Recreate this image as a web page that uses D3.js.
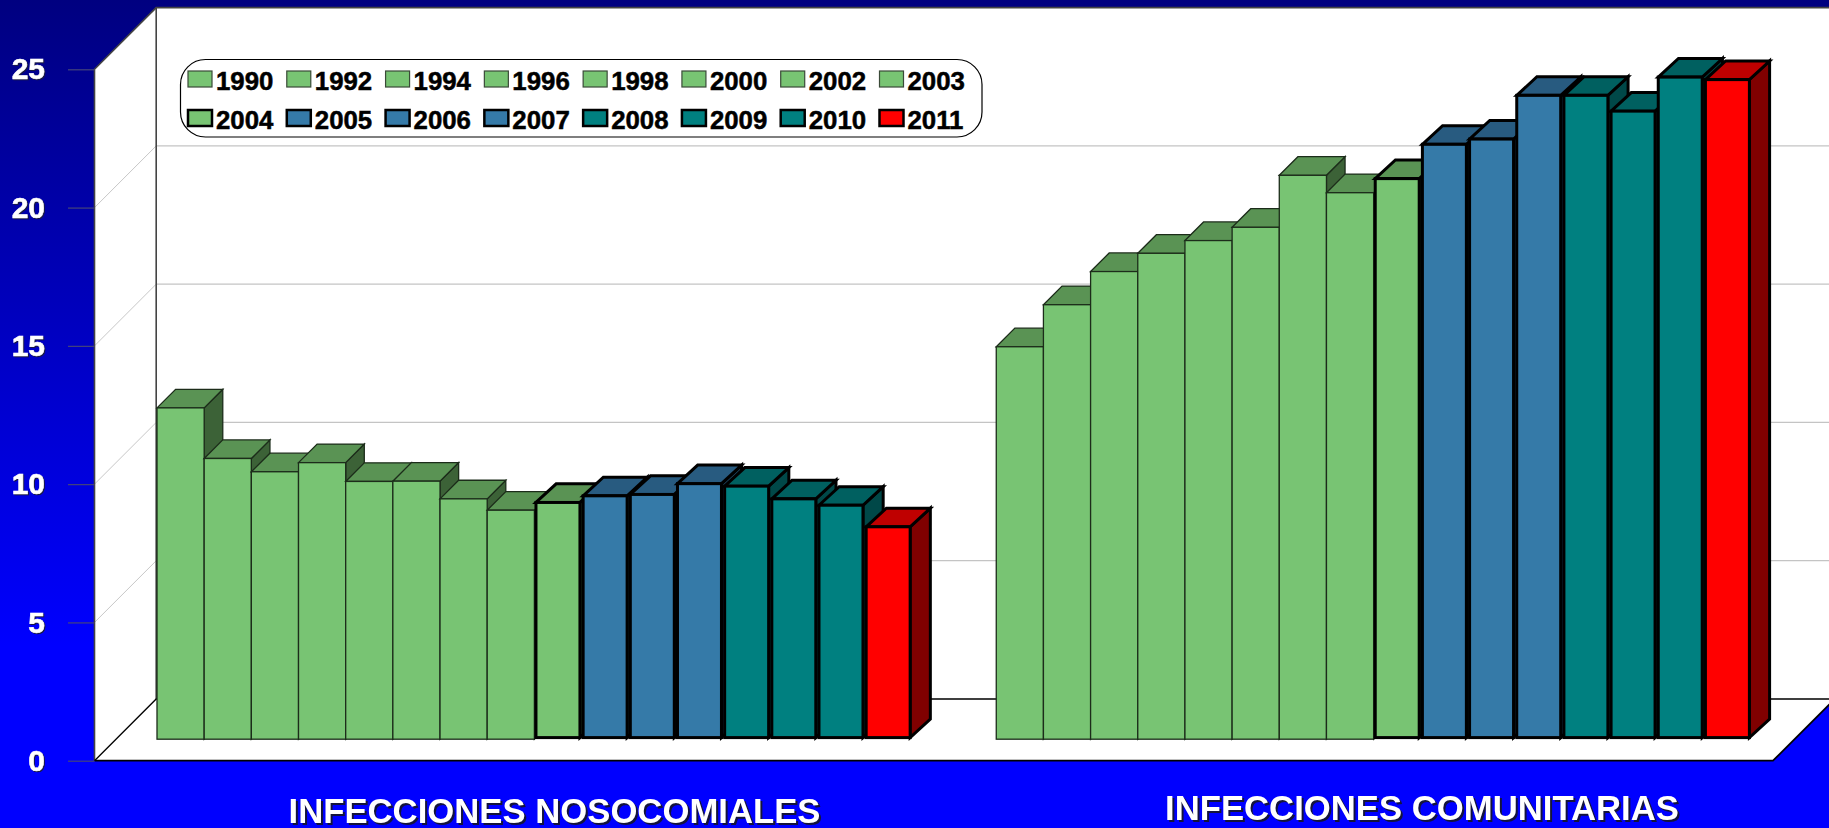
<!DOCTYPE html>
<html>
<head>
<meta charset="utf-8">
<script src="https://cdnjs.cloudflare.com/ajax/libs/d3/7.8.5/d3.min.js"></script>
<style>
html,body{margin:0;padding:0;background:#00f;overflow:hidden}
svg{display:block}
text{font-family:"Liberation Sans",Arial,sans-serif;font-weight:700}
</style>
</head>
<body>
<script>
const years = ["1990","1992","1994","1996","1998","2000","2002","2003","2004","2005","2006","2007","2008","2009","2010","2011"];
const nosocomiales = [11.98,10.15,9.67,10.0,9.32,9.33,8.69,8.28,8.56,8.80,8.85,9.24,9.15,8.69,8.46,7.68];
const comunitarias = [14.19,15.71,16.91,17.57,18.03,18.51,20.39,19.76,20.27,21.51,21.70,23.28,23.28,22.71,23.94,23.85];
const groups = ["INFECCIONES NOSOCOMIALES","INFECCIONES COMUNITARIAS"];
const groupValues = [nosocomiales, comunitarias];
const ticks = [0,5,10,15,20,25];
const gridTicks = [5,10,15,20];
const legendRows = [years.slice(0,8), years.slice(8)];

const W = 1829, H = 828;
const palette = {
  green:{front:"#78c473",top:"#5a9354",side:"#3c6237"},
  blue:{front:"#357aa8",top:"#285b80",side:"#1e4560"},
  teal:{front:"#008080",top:"#006060",side:"#004848"},
  red:{front:"#ff0000",top:"#bf0000",side:"#800000"}
};
const colorOf = y => y==="2011" ? palette.red : y>="2008" ? palette.teal : y>="2005" ? palette.blue : palette.green;
const heavy = y => y>="2004";

const svg = d3.select("body").append("svg").attr("width",W).attr("height",H);
const defs = svg.append("defs");
const grad = defs.append("linearGradient").attr("id","bg").attr("x1",0).attr("x2",0).attr("y1",0).attr("y2",1);
grad.append("stop").attr("offset","0").attr("stop-color","#000080");
grad.append("stop").attr("offset","0.78").attr("stop-color","#0000ff");
grad.append("stop").attr("offset","1").attr("stop-color","#0000ff");
svg.append("rect").attr("width",W).attr("height",H).attr("fill","url(#bg)");

const y = d3.scaleLinear().domain([0,25]).range([760.7,69.3]);
const wallX = 94.5, depth = 61.7, barInset = 21.5, barDepth = 18.6;
const right = 1773;
const backY = v => y(v)-depth;
const x0 = d3.scaleBand().domain(groups).range([157,1751]).paddingInner(0.1007);
const x1 = d3.scaleBand().domain(years).range([0,x0.bandwidth()]);
const line = d3.line();

// walls and floor
svg.append("path").attr("fill","#fff")
  .attr("d",line([[wallX,y(25)],[wallX+depth,backY(25)],[W,backY(25)],[W,backY(0)],[right+depth,backY(0)],[right,y(0)],[wallX,y(0)]])+"Z");

// gridlines
const grid = svg.append("g");
grid.selectAll("line.back").data(gridTicks).join("line").attr("class","back")
  .attr("x1",wallX+depth).attr("x2",W).attr("y1",backY).attr("y2",backY)
  .attr("stroke","#c4c4c4").attr("stroke-width",1.2);
grid.selectAll("line.side").data(gridTicks).join("line").attr("class","side")
  .attr("x1",wallX).attr("x2",wallX+depth).attr("y1",y).attr("y2",backY)
  .attr("stroke","#c8c8c8").attr("stroke-width",1);

// wall edges
const edges = svg.append("g").attr("fill","none");
edges.append("path").attr("stroke","#444").attr("stroke-width",1.6)
  .attr("d",line([[wallX,y(0)],[wallX,y(25)],[wallX+depth,backY(25)],[W,backY(25)]]));
edges.append("path").attr("stroke","#444").attr("stroke-width",1.6)
  .attr("d",line([[wallX+depth,backY(25)],[wallX+depth,backY(0)]]));
edges.append("path").attr("stroke","#000").attr("stroke-width",1.3)
  .attr("d",line([[wallX,y(0)],[wallX+depth,backY(0)],[W,backY(0)]]));
edges.append("path").attr("stroke","#000").attr("stroke-width",1.8)
  .attr("d",line([[wallX,y(0)],[right,y(0)],[right+depth,backY(0)]]));

// axis
const axis = d3.axisLeft(y).tickValues(ticks).tickSize(26.5).tickPadding(23).tickFormat(d3.format("d"));
const gAxis = svg.append("g").attr("transform",`translate(${wallX},0)`).call(axis);
gAxis.select(".domain").remove();
gAxis.selectAll(".tick line").attr("stroke","#44447a").attr("stroke-width",1.2);
gAxis.selectAll(".tick text").attr("fill","#fff").attr("stroke","#fff").attr("stroke-width",0.6).style("font-size","30px")
  .style("font-family",'"Liberation Sans",Arial,sans-serif').style("font-weight",700)
  .style("filter","drop-shadow(1.5px 1.5px 0 #1a1a40)");

// bars
const barY = v => y(v)-barInset;
groups.forEach((g,gi)=>{
  const gBars = svg.append("g").selectAll("g").data(years.map((yr,i)=>({yr,v:groupValues[gi][i]}))).join("g");
  gBars.each(function(d){
    const sel = d3.select(this);
    const c = colorOf(d.yr), hv = heavy(d.yr), ins = hv?1.6:0;
    const L = x0(g)+x1(d.yr)+ins, R = x0(g)+x1(d.yr)+x1.bandwidth()-ins;
    const T = barY(d.v), B = barY(0)-ins, k = barDepth, kx = barDepth+ins;
    const sw = hv?3:1.3, st = hv?"#000":"#1c2c1a";
    const common = s => s.attr("stroke",st).attr("stroke-width",sw).attr("stroke-linejoin","miter");
    sel.append("path").attr("fill",c.side).call(common)
      .attr("d",line([[R,T],[R+kx,T-k],[R+kx,B-k],[R,B]])+"Z");
    sel.append("path").attr("fill",c.top).call(common)
      .attr("d",line([[L,T],[L+kx,T-k],[R+kx,T-k],[R,T]])+"Z");
    sel.append("rect").attr("x",L).attr("y",T).attr("width",R-L).attr("height",B-T).attr("fill",c.front).call(common);
  });
});

// category labels
const labelPos = [{x:554.5,y:822.5},{x:1422,y:820}];
svg.append("g").selectAll("text").data(groups).join("text")
  .attr("x",(d,i)=>labelPos[i].x).attr("y",(d,i)=>labelPos[i].y)
  .attr("text-anchor","middle").attr("fill","#fff")
  .style("font-size","34.7px")
  .style("filter","drop-shadow(2px 2px 0 #14143c)")
  .text(d=>d);

// legend
const lg = svg.append("g");
lg.append("rect").attr("x",180.5).attr("y",59.5).attr("width",801.5).attr("height",77.5).attr("rx",25).attr("ry",25)
  .attr("fill","#fff").attr("stroke","#000").attr("stroke-width",1.2);
const lx = d3.scalePoint().domain(d3.range(8)).range([188,879.5]);
const ly = d3.scalePoint().domain([0,1]).range([71,110]);
legendRows.forEach((row,r)=>{
  const it = lg.append("g").selectAll("g").data(row).join("g")
    .attr("transform",(d,i)=>`translate(${lx(i)},${ly(r)})`);
  it.append("rect").attr("width",24).attr("height",16)
    .attr("fill",d=>colorOf(d).front)
    .attr("stroke",d=>heavy(d)?"#000":"#3a4a38")
    .attr("stroke-width",d=>heavy(d)?2.5:1.2);
  it.append("text").attr("x",28).attr("y",19).attr("fill","#000").attr("stroke","#000").attr("stroke-width",0.5)
    .style("font-size","25.8px").text(d=>d);
});
</script>
</body>
</html>
